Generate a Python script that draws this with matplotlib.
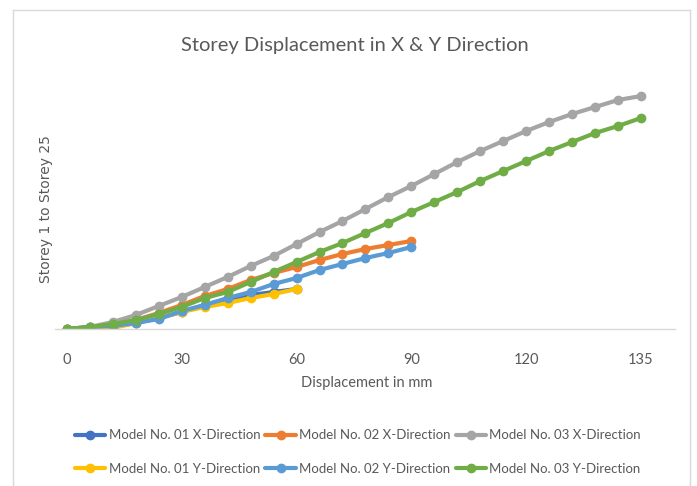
import matplotlib
matplotlib.use("Agg")
import matplotlib.pyplot as plt
from matplotlib.lines import Line2D

# point index along the category axis, and the labels Excel showed
tick_pos = [0, 5, 10, 15, 20, 25]
tick_labels = ["0", "30", "60", "90", "120", "135"]

# storey response (arbitrary units, no y scale shown)
m01_x = [0, 1, 2, 6, 11, 17, 24, 30, 34, 37, 40]
m02_x = [0, 2, 4, 9, 16, 24, 33, 40, 49, 56, 62, 69, 75, 80, 84, 88]
m03_x = [0, 2, 7, 14, 23, 32, 42, 52, 63, 73, 85, 97, 108, 120, 132, 143,
         155, 167, 178, 188, 198, 207, 215, 222, 229, 233]
m01_y = [0, 1, 1, 6, 11, 17, 22, 26, 31, 35, 40]
m02_y = [0, 2, 3, 6, 10, 18, 24, 31, 37, 45, 51, 59, 65, 71, 76, 82]
m03_y = [0, 2, 5, 9, 15, 22, 31, 37, 47, 57, 67, 77, 86, 96, 106, 117,
         127, 137, 148, 158, 168, 178, 187, 196, 203, 211]

series = [
    ("Model No. 01 X-Direction", m01_x, "#4472C4"),
    ("Model No. 02 X-Direction", m02_x, "#ED7D31"),
    ("Model No. 03 X-Direction", m03_x, "#A5A5A5"),
    ("Model No. 01 Y-Direction", m01_y, "#FFC000"),
    ("Model No. 02 Y-Direction", m02_y, "#5B9BD5"),
    ("Model No. 03 Y-Direction", m03_y, "#70AD47"),
]

plt.rcParams["font.family"] = ["Lato", "DejaVu Sans"]
text_col = "#595959"

W, H = 697, 486
fig = plt.figure(figsize=(W / 100, H / 100), dpi=100)
ax = fig.add_axes([55 / W, 1 - 329 / H, 620 / W, 249 / H])

handles = []
for label, vals, col in series:
    (ln,) = ax.plot(range(len(vals)), vals, color=col, lw=3.0, marker="o",
                    markersize=6, label=label, solid_capstyle="round")
    handles.append(ln)

ax.set_xlim(-0.52, 26.48)
ax.set_ylim(0, 249)
ax.set_xticks(tick_pos)
ax.set_xticklabels(tick_labels, fontsize=10.5, color=text_col)
ax.tick_params(axis="x", length=0, pad=17)
ax.set_yticks([])
for s in ["top", "right", "left"]:
    ax.spines[s].set_visible(False)
ax.spines["bottom"].set_color("#D9D9D9")
ax.spines["bottom"].set_linewidth(1.0)

fig.text(355 / W, 1 - 45 / H, "Storey Displacement in X & Y Direction",
         ha="center", va="center", fontsize=14.5, color=text_col)
fig.text(367 / W, 1 - 383 / H, "Displacement in mm", ha="center",
         va="center", fontsize=10.5, color=text_col)
fig.text(46 / W, 1 - 209 / H, "Storey 1 to Storey 25", ha="center",
         va="center", rotation=90, fontsize=10, color=text_col,
         family="DejaVu Sans")

# legend fills column by column, so interleave to get Excel's row order
order = [0, 3, 1, 4, 2, 5]
fig.legend([handles[i] for i in order], [series[i][0] for i in order],
           loc="center", bbox_to_anchor=(358 / W, 1 - 452 / H), ncol=3,
           frameon=False, fontsize=9.5, labelcolor=text_col,
           handlelength=2.3, handletextpad=0.25, columnspacing=0.4,
           labelspacing=1.6)

# light grey chart border (bottom edge is cut off in the original)
border = dict(color="#D9D9D9", lw=1.0, transform=fig.transFigure)
fig.add_artist(Line2D([13 / W, 13 / W], [0, 1 - 10 / H], **border))
fig.add_artist(Line2D([13 / W, 690 / W], [1 - 10 / H, 1 - 10 / H], **border))
fig.add_artist(Line2D([690 / W, 690 / W], [0, 1 - 10 / H], **border))

fig.savefig("out.png", dpi=100)
